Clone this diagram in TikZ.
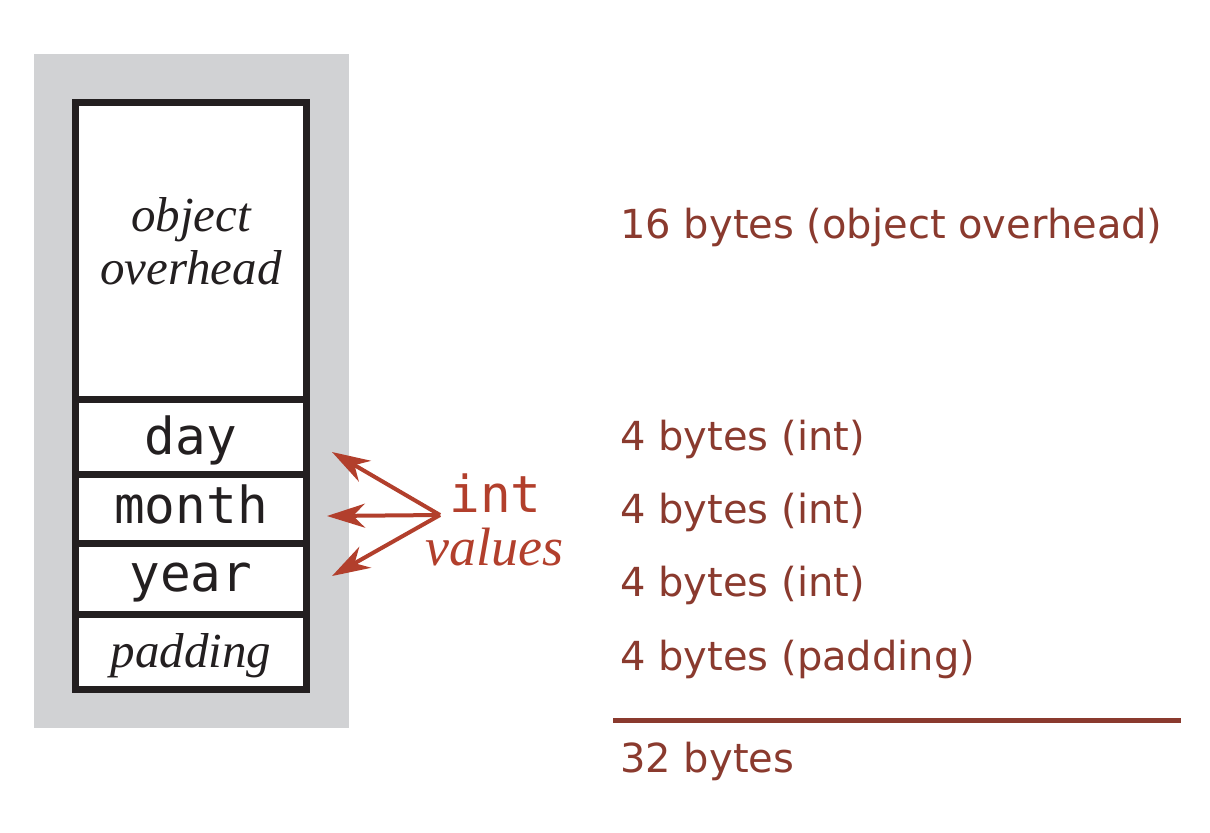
\documentclass[tikz,border=0pt]{standalone}
\usepackage{fontspec}
\setmainfont{Liberation Serif}
\setsansfont{DejaVu Sans}
\setmonofont{DejaVu Sans Mono}
\usetikzlibrary{arrows.meta}
\definecolor{boxgray}{HTML}{D1D2D4}
\definecolor{ink}{HTML}{231F20}
\definecolor{brown}{HTML}{8A3A2E}
\definecolor{redarrow}{HTML}{B23F2C}
\tikzset{
  cell/.style={draw=ink, line width=3.5pt},
  fieldname/.style={inner sep=0pt, anchor=base, text=ink, font=\ttfamily\fontsize{25.5}{28}\selectfont},
  italiclabel/.style={inner sep=0pt, anchor=base, text=ink, font=\itshape\fontsize{24.5}{28}\selectfont},
  sizelabel/.style={inner sep=0pt, anchor=base west, text=brown, font=\sffamily\fontsize{20}{24}\selectfont},
  ptr/.style={draw=redarrow, line width=2pt, -{Stealth[length=19pt, width=12pt, inset=6pt]}},
}
\begin{document}
\begin{tikzpicture}[x=0.5pt, y=-0.5pt]
\useasboundingbox (0,0) rectangle (1210,832);
% gray background
\fill[boxgray] (34,54) rectangle (349,728);
% object box
\filldraw[cell, fill=white] (75.5,102.5) rectangle (306.5,689);
\draw[cell] (75.5,399) -- (306.5,399);
\draw[cell] (75.5,474) -- (306.5,474);
\draw[cell] (75.5,543) -- (306.5,543);
\draw[cell] (75.5,614) -- (306.5,614);
% texts in box
\node[italiclabel] (obj1) at (191,231) {object};
\node[italiclabel] (obj2) at (191,284) {overhead};
\node[fieldname] (day) at (191,454) {day};
\node[fieldname] (month) at (191,523) {month};
\node[fieldname] (year) at (191,591) {year};
\node[italiclabel] (pad) at (191,667) {padding};
% arrows
\coordinate (src) at (440,515);
\coordinate (tday) at (332,452);
\coordinate (tmonth) at (327,516);
\coordinate (tyear) at (332,576);
\draw[ptr] (src) -- (tday);
\draw[ptr] (src) -- (tmonth);
\draw[ptr] (src) -- (tyear);
\node[inner sep=0pt, anchor=base west, text=redarrow, font=\ttfamily\fontsize{25.5}{28}\selectfont] (intlbl) at (449,512) {int};
\node[inner sep=0pt, anchor=base west, text=redarrow, font=\itshape\fontsize{27}{30}\selectfont] (vallbl) at (425,565) {values};
% sizes
\node[sizelabel] (s1) at (620,238) {16 bytes (object overhead)};
\node[sizelabel] (s2) at (620,450) {4 bytes (int)};
\node[sizelabel] (s3) at (620,523) {4 bytes (int)};
\node[sizelabel] (s4) at (620,596) {4 bytes (int)};
\node[sizelabel] (s5) at (620,670) {4 bytes (padding)};
\coordinate (ruleL) at (613,720);
\coordinate (ruleR) at (1181,720);
\draw[brown, line width=2.5pt] (ruleL) -- (ruleR);
\node[sizelabel] (total) at (620,772) {32 bytes};
\end{tikzpicture}
\end{document}
